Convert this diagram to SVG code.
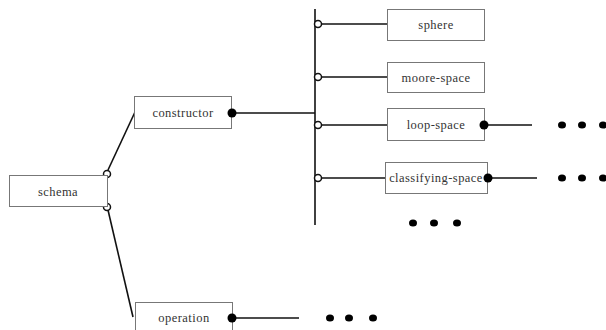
<svg xmlns="http://www.w3.org/2000/svg" width="606" height="330" viewBox="0 0 606 330">
<style>
.box{fill:#fff;stroke:#777;stroke-width:1}
.lbl{font-family:"Liberation Serif","Times New Roman",serif;font-size:12.5px;letter-spacing:0.45px;fill:#333;text-anchor:middle}
.ln{stroke:#111;stroke-width:1.6;fill:none}
.oc{fill:#fff;stroke:#111;stroke-width:1.5}
.fc{fill:#000}
.dot{fill:#000}
</style>
<rect width="606" height="330" fill="#fff"/>
<g id="connectors">
<line class="ln" x1="108" y1="170" x2="135" y2="112"/>
<line class="ln" x1="108" y1="210" x2="133" y2="317"/>
<line class="ln" x1="232" y1="113" x2="315" y2="113" stroke-width="2"/>
<line class="ln" x1="315" y1="9" x2="315" y2="225" stroke-width="2"/>
<line class="ln" x1="318" y1="24" x2="387" y2="24"/>
<line class="ln" x1="318" y1="77" x2="387" y2="77"/>
<line class="ln" x1="318" y1="125" x2="387" y2="125"/>
<line class="ln" x1="318" y1="178" x2="385" y2="178"/>
<line class="ln" x1="484" y1="125" x2="532" y2="125" stroke-width="2.2"/>
<line class="ln" x1="488" y1="178" x2="537" y2="178" stroke-width="2.2"/>
<line class="ln" x1="232" y1="318" x2="299" y2="318" stroke-width="3"/>
<circle class="oc" cx="107" cy="174" r="3.5"/>
<circle class="oc" cx="107" cy="207" r="3.5"/>
<circle class="oc" cx="318" cy="24" r="3.5"/>
<circle class="oc" cx="318" cy="77" r="3.5"/>
<circle class="oc" cx="318" cy="125" r="3.5"/>
<circle class="oc" cx="318" cy="178" r="3.5"/>
</g>
<g id="schema"><rect class="box" x="9.5" y="175.5" width="98" height="31"/><text class="lbl" x="58" y="196">schema</text></g>
<g id="constructor"><rect class="box" x="134.5" y="96.5" width="97" height="32"/><text class="lbl" x="183" y="117">constructor</text><circle class="fc" cx="232" cy="113" r="4.5"/></g>
<g id="sphere"><rect class="box" x="387.5" y="9.5" width="97" height="31"/><text class="lbl" x="436" y="29">sphere</text></g>
<g id="moore-space"><rect class="box" x="387.5" y="62.5" width="97" height="30"/><text class="lbl" x="436" y="82">moore-space</text></g>
<g id="loop-space"><rect class="box" x="387.5" y="108.5" width="97" height="32"/><text class="lbl" x="436" y="129">loop-space</text><circle class="fc" cx="484" cy="125" r="4.5"/></g>
<g id="classifying-space"><rect class="box" x="385.5" y="162.5" width="102" height="31"/><text class="lbl" x="436" y="182">classifying-space</text><circle class="fc" cx="488" cy="178" r="4.5"/></g>
<g id="operation"><rect class="box" x="135.5" y="302.5" width="97" height="32"/><text class="lbl" x="184" y="322">operation</text><circle class="fc" cx="232" cy="318" r="4.5"/></g>
<g id="ellipses">
<ellipse class="dot" cx="562" cy="125" rx="4" ry="3.5"/><ellipse class="dot" cx="582" cy="125" rx="4" ry="3.5"/><ellipse class="dot" cx="603" cy="125" rx="4" ry="3.5"/>
<ellipse class="dot" cx="562" cy="178" rx="4" ry="3.5"/><ellipse class="dot" cx="582" cy="178" rx="4" ry="3.5"/><ellipse class="dot" cx="603" cy="178" rx="4" ry="3.5"/>
<ellipse class="dot" cx="413" cy="223" rx="4" ry="3.5"/><ellipse class="dot" cx="434" cy="223" rx="4" ry="3.5"/><ellipse class="dot" cx="457" cy="223" rx="4" ry="3.5"/>
<ellipse class="dot" cx="330" cy="318" rx="4" ry="3.5"/><ellipse class="dot" cx="349" cy="318" rx="4" ry="3.5"/><ellipse class="dot" cx="373" cy="318" rx="4" ry="3.5"/>
</g>
</svg>
